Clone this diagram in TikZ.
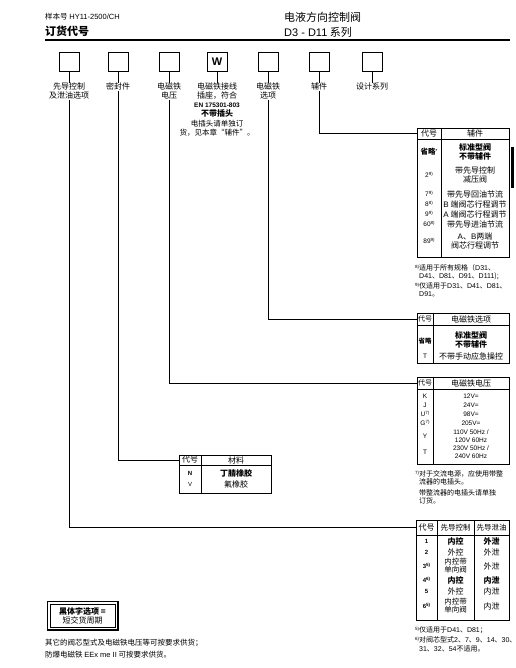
\documentclass[tikz,border=0pt]{standalone}
\usepackage{fontspec}
\setmainfont{Noto Sans CJK SC}
\newfontfamily\arial{Liberation Sans}
\usetikzlibrary{calc}
\newcommand\fsz[2]{\fontsize{#1}{#2}\selectfont}
\newcommand\fnm[1]{\raisebox{0.6ex}{\fontsize{4.5}{4.5}\selectfont\arial #1}}
\begin{document}
\begin{tikzpicture}[x=1pt,y=-1pt,
  cbox/.style={draw, line width=0.9pt, minimum width=20pt, minimum height=19pt, inner sep=0pt, font=\arial\bfseries\fontsize{11}{11}\selectfont},
  lbl/.style={align=center, inner sep=0pt, anchor=north, font=\fsz{8}{9}},
  conn/.style={line width=0.8pt},
  tframe/.style={draw, line width=1pt, anchor=north west, inner sep=0pt},
  thead/.style={anchor=north west, inner sep=0pt},
  tline/.style={line width=0.6pt},
  tc/.style={inner sep=0pt, align=center, font=\fsz{8}{9}},
  tl/.style={inner sep=0pt, align=center, font=\arial\fsz{6.5}{7.5}},
  fn/.style={inner sep=0pt, anchor=west, font=\fsz{7}{8}},
]
\useasboundingbox (0,0) rectangle (515,668);

% header
\node[anchor=west, inner sep=0pt, font=\fsz{7.5}{9}] (h1) at (45,17) {样本号 {\arial HY11-2500/CH}};
\node[anchor=west, inner sep=0pt, font=\bfseries\fsz{11}{13}] (h2) at (45,31) {订货代号};
\node[anchor=west, inner sep=0pt, font=\fsz{11}{12}] (h3) at (284,17) {电液方向控制阀};
\node[anchor=west, inner sep=0pt, font=\fsz{11}{12}] (h4) at (284,32) {{\arial D3 - D11} 系列};
\draw[line width=1.8pt] (45,40) -- (510,40);
\fill (510.5,147) rectangle (514,188);

% code boxes
\node[cbox] (b1) at (69,61.5) {};
\node[cbox] (b2) at (118,61.5) {};
\node[cbox] (b3) at (169,61.5) {};
\node[cbox] (b4) at (217,61.5) {W};
\node[cbox] (b5) at (268,61.5) {};
\node[cbox] (b6) at (319,61.5) {};
\node[cbox] (b7) at (372,61.5) {};

% labels
\node[lbl] (l1) at (69,83) {先导控制\\及泄油选项};
\node[lbl] (l2) at (118,83) {密封件};
\node[lbl] (l3) at (169,83) {电磁铁\\电压};
\node[lbl] (l4) at (217,83) {电磁铁接线\\插座，符合\\{\arial\bfseries\fontsize{6.5}{7.5}\selectfont EN 175301-803}\\{\bfseries 不带插头}\\[1pt]{\fontsize{7.5}{8.5}\selectfont 电插头请单独订}\\{\fontsize{7.5}{8.5}\selectfont 货，见本章“辅件”。}};
\node[lbl] (l5) at (268,83) {电磁铁\\选项};
\node[lbl] (l6) at (319,83) {辅件};
\node[lbl] (l7) at (372,83) {设计系列};

\foreach \i in {1,...,7} {\draw[conn] (b\i.south) -- (l\i.north);}

% ---------- accessory table ----------
\node[tframe, minimum width=92pt, minimum height=129pt] (acc) at (417,128) {};
\node[thead, minimum width=92pt, minimum height=11pt] (acch) at (417,128) {};
\draw[tline] (acch.south west) -- (acch.south east);
\draw[tline] (441,128) -- (441,257);
\node[tc] at (429,133.5) {代号};
\node[tc] at (475,133.5) {辅件};
\node[tc, font=\bfseries\fsz{7.5}{8.5}] at (429,152) {省略\fnm{*}};
\node[tc, font=\bfseries\fsz{8}{9}] at (475,152) {标准型阀\\不带辅件};
\node[tl] at (429,175) {2\fnm{9)}};
\node[tc] at (475,175) {带先导控制\\减压阀};
\node[tl] at (429,194) {7\fnm{9)}};
\node[tc] at (475,194) {带先导回油节流};
\node[tl] at (429,204) {8\fnm{8)}};
\node[tc] at (475,204) {{\arial B} 端阀芯行程调节};
\node[tl] at (429,214) {9\fnm{9)}};
\node[tc] at (475,214) {{\arial A} 端阀芯行程调节};
\node[tl] at (429,224) {60\fnm{8)}};
\node[tc] at (475,224) {带先导进油节流};
\node[tl] at (429,241) {89\fnm{9)}};
\node[tc] at (475,241) {{\arial A}、{\arial B}两端\\阀芯行程调节};
\node[fn] at (415,268) {\fnm{8)}适用于所有规格（{\arial D31}、};
\node[fn] at (419,276) {{\arial D41}、{\arial D81}、{\arial D91}、{\arial D111});};
\node[fn] at (415,286) {\fnm{9)}仅适用于{\arial D31}、{\arial D41}、{\arial D81}、};
\node[fn] at (419,294) {{\arial D91}。};

% ---------- solenoid option table ----------
\node[tframe, minimum width=92pt, minimum height=50pt] (opt) at (417,313) {};
\node[thead, minimum width=92pt, minimum height=12pt] (opth) at (417,313) {};
\draw[tline] (opth.south west) -- (opth.south east);
\draw[tline] (433,313) -- (433,363);
\node[tc, font=\fsz{7}{8}] at (425,319) {代号};
\node[tc] at (471,319) {电磁铁选项};
\node[tc, font=\bfseries\fsz{6.5}{7.5}] at (425,341) {省略};
\node[tc, font=\bfseries\fsz{8}{9}] at (471,340) {标准型阀\\不带辅件};
\node[tl] at (425,356) {T};
\node[tc] at (471,356) {不带手动应急操控};

% ---------- voltage table ----------
\node[tframe, minimum width=92pt, minimum height=87pt] (vol) at (417,377) {};
\node[thead, minimum width=92pt, minimum height=12pt] (volh) at (417,377) {};
\draw[tline] (volh.south west) -- (volh.south east);
\draw[tline] (433,377) -- (433,464);
\node[tc, font=\fsz{7}{8}] at (425,383) {代号};
\node[tc] at (471,383) {电磁铁电压};
\node[tl] at (425,396) {K};   \node[tl] at (471,396) {12V=};
\node[tl] at (425,405) {J};   \node[tl] at (471,405) {24V=};
\node[tl] at (425,414) {U\fnm{7)}}; \node[tl] at (471,414) {98V=};
\node[tl] at (425,423) {G\fnm{7)}}; \node[tl] at (471,423) {205V=};
\node[tl] at (425,436) {Y}; \node[tl] at (471,436) {110V 50Hz /\\120V 60Hz};
\node[tl] at (425,452) {T};   \node[tl] at (471,452) {230V 50Hz /\\240V 60Hz};
\node[fn] at (415,474) {\fnm{7)}对于交流电源，应使用带整};
\node[fn] at (419,482) {流器的电插头。};
\node[fn] at (419,493) {带整流器的电插头请单独};
\node[fn] at (419,501) {订货。};

% ---------- seal table ----------
\node[tframe, minimum width=92pt, minimum height=38pt] (seal) at (179,455) {};
\node[thead, minimum width=92pt, minimum height=10pt] (sealh) at (179,455) {};
\draw[tline] (sealh.south west) -- (sealh.south east);
\draw[tline] (201,455) -- (201,493);
\node[tc] at (190,460) {代号};
\node[tc] at (236,460) {材料};
\node[tl, font=\arial\bfseries\fsz{6}{7}] at (190,473) {N};
\node[tc, font=\bfseries\fsz{8}{9}] at (236,473) {丁腈橡胶};
\node[tl, font=\arial\fsz{6}{7}] at (190,484) {V};
\node[tc] at (236,484) {氟橡胶};

% ---------- pilot table ----------
\node[tframe, minimum width=93pt, minimum height=100pt] (pil) at (416,520) {};
\node[thead, minimum width=93pt, minimum height=15pt] (pilh) at (416,520) {};
\draw[tline] (pilh.south west) -- (pilh.south east);
\draw[tline] (437,520) -- (437,620);
\draw[tline] (474,520) -- (474,620);
\node[tc] at (426.5,527.5) {代号};
\node[tc, font=\fsz{7.5}{8}] at (455.5,527.5) {先导控制};
\node[tc, font=\fsz{7.5}{8}] at (491.5,527.5) {先导泄油};
\node[tl, font=\arial\bfseries\fsz{6}{7}] at (426.5,541.5) {1};
\node[tc, font=\bfseries\fsz{8}{9}] at (455.5,541.5) {内控};
\node[tc, font=\bfseries\fsz{8}{9}] at (491.5,541.5) {外泄};
\node[tl, font=\arial\bfseries\fsz{6}{7}] at (426.5,552) {2};
\node[tc] at (455.5,552) {外控};
\node[tc] at (491.5,552) {外泄};
\node[tl, font=\arial\bfseries\fsz{6}{7}] at (426.5,566) {3\fnm{5)}};
\node[tc, font=\fsz{7.5}{8}] at (455.5,566) {内控带\\单向阀};
\node[tc] at (491.5,566) {外泄};
\node[tl, font=\arial\bfseries\fsz{6}{7}] at (426.5,580) {4\fnm{6)}};
\node[tc, font=\bfseries\fsz{8}{9}] at (455.5,580) {内控};
\node[tc, font=\bfseries\fsz{8}{9}] at (491.5,580) {内泄};
\node[tl, font=\arial\bfseries\fsz{6}{7}] at (426.5,591.5) {5};
\node[tc] at (455.5,591.5) {外控};
\node[tc] at (491.5,591.5) {内泄};
\node[tl, font=\arial\bfseries\fsz{6}{7}] at (426.5,606) {6\fnm{5)}};
\node[tc, font=\fsz{7.5}{8}] at (455.5,606) {内控带\\单向阀};
\node[tc] at (491.5,606) {内泄};
\node[fn] at (415,630) {\fnm{5)}仅适用于{\arial D41}、{\arial D81}；};
\node[fn] at (415,640) {\fnm{6)}对阀芯型式{\arial 2}、{\arial 7}、{\arial 9}、{\arial 14}、{\arial 30}、};
\node[fn] at (419,649) {{\arial 31}、{\arial 32}、{\arial 54}不适用。};

% connectors
\draw[conn] (l1.south) |- (pilh.west);
\draw[conn] (l2.south) |- (sealh.west);
\draw[conn] (l3.south) |- (volh.west);
\draw[conn] (l5.south) |- (opth.west);
\draw[conn] (l6.south) |- (acch.west);

% bottom left
\node[draw, line width=0.6pt, minimum width=65pt, minimum height=23pt, inner sep=0pt, align=center, font=\fsz{8}{9}] (bold) at (82.5,615.5) {{\bfseries 黑体字选项 =}\\短交货周期};
\draw[line width=1.4pt] ($(bold.north west)+(-2.5,-2.5)$) rectangle ($(bold.south east)+(2.5,2.5)$);
\node[anchor=west, inner sep=0pt, font=\fsz{7.5}{8.5}] (n1) at (45,643) {其它的阀芯型式及电磁铁电压等可按要求供货；};
\node[anchor=west, inner sep=0pt, font=\fsz{7.5}{8.5}] (n2) at (45,655) {防爆电磁铁 {\arial EEx me II} 可按要求供货。};
\end{tikzpicture}
\end{document}
